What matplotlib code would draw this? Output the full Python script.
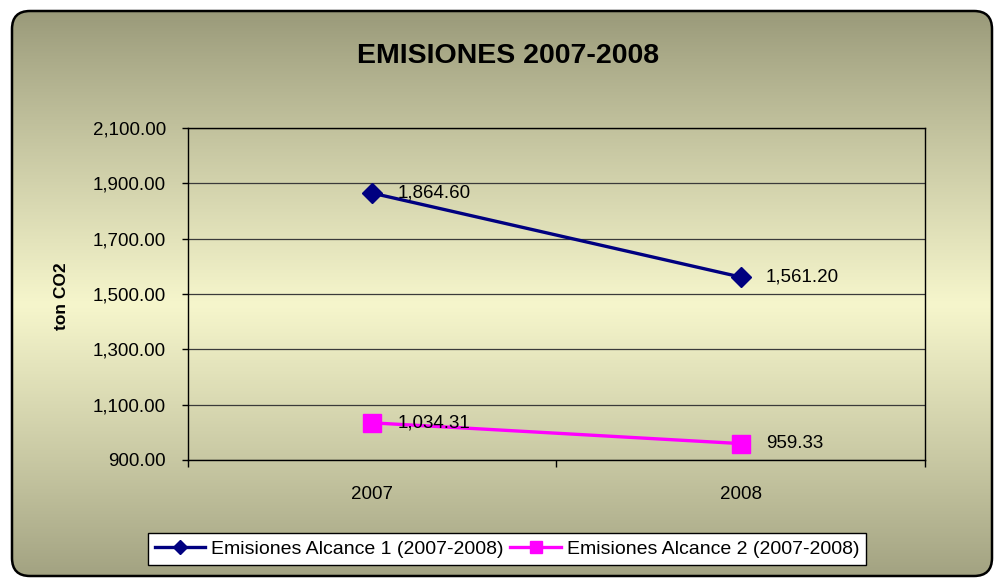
import numpy as np
import matplotlib
matplotlib.use('Agg')
import matplotlib.pyplot as plt
from matplotlib.patches import FancyBboxPatch

plt.rcParams['font.family'] = ['Liberation Sans', 'DejaVu Sans']

# data
years = ['2007', '2008']
alcance1 = [1864.60, 1561.20]
alcance2 = [1034.31, 959.33]
labels1 = ['1,864.60', '1,561.20']
labels2 = ['1,034.31', '959.33']
yticks = [900, 1100, 1300, 1500, 1700, 1900, 2100]

W, H = 995, 579
fig = plt.figure(figsize=(W / 100, H / 100), dpi=100)
fig.patch.set_facecolor('white')

# background with rounded frame and vertical gradient (dark - light - dark)
bg = fig.add_axes([0, 0, 1, 1])
bg.set_xlim(0, W); bg.set_ylim(H, 0); bg.axis('off')
t = np.linspace(0, 1, 300)
w = 1 - np.abs(t - 0.52) / 0.52
w = np.clip(w, 0, 1) ** 0.9
dark = np.array([153, 153, 121]) / 255
light = np.array([246, 246, 204]) / 255
grad = dark[None, :] * (1 - w[:, None]) + light[None, :] * w[:, None]
img = np.repeat(grad[:, None, :], 2, axis=1)
box = FancyBboxPatch((12, 11), 980, 565, boxstyle='round,pad=0,rounding_size=18',
                     facecolor='none', edgecolor='black', linewidth=1.8, zorder=3)
bg.add_patch(box)
im = bg.imshow(img, extent=[12, 992, 576, 11], aspect='auto', zorder=1)
im.set_clip_path(box)

# main plot
ax = fig.add_axes([188 / W, 1 - 460 / H, (925 - 188) / W, (460 - 128) / H])
ax.patch.set_alpha(0)
x = np.arange(len(years))
ax.plot(x, alcance1, color='#000080', lw=2.4, marker='D', ms=10,
        label='Emisiones Alcance 1 (2007-2008)', zorder=4)
ax.plot(x, alcance2, color='#FF00FF', lw=2.4, marker='s', ms=13,
        label='Emisiones Alcance 2 (2007-2008)', zorder=4)
for xi, v, s in zip(x, alcance1, labels1):
    ax.annotate(s, (xi, v), xytext=(18, 0), textcoords='offset points',
                va='center', ha='left', fontsize=13.5, zorder=5)
for xi, v, s in zip(x, alcance2, labels2):
    ax.annotate(s, (xi, v), xytext=(18, 0), textcoords='offset points',
                va='center', ha='left', fontsize=13.5, zorder=5)

ax.set_xlim(-0.5, 1.5)
ax.set_ylim(900, 2100)
ax.set_yticks(yticks)
ax.set_yticklabels(['{:,.2f}'.format(v) for v in yticks], fontsize=13.5)
ax.tick_params(axis='y', length=4, width=1, pad=12)
ax.set_xticks([-0.5, 0.5, 1.5])
ax.set_xticklabels(['', '', ''])
ax.set_xticks(x, minor=True)
ax.set_xticklabels(years, minor=True, fontsize=13.5)
ax.tick_params(axis='x', which='major', length=5, width=1)
ax.tick_params(axis='x', which='minor', length=0, pad=19)
ax.grid(axis='y', color='#3a3a3a', lw=0.9)
ax.set_axisbelow(True)
for sp in ax.spines.values():
    sp.set_color('black'); sp.set_linewidth(1)

fig.text(508 / W, 1 - 56 / H, 'EMISIONES 2007-2008', ha='center', va='center',
         fontsize=20.5, fontweight='bold')
fig.text(62 / W, 1 - 296 / H, 'ton CO2', ha='center', va='center', rotation=90,
         fontsize=12.5, fontweight='bold')

leg = fig.legend(loc='center', bbox_to_anchor=(507 / W, 1 - 549 / H), ncol=2,
                 fontsize=14, frameon=True, fancybox=False, edgecolor='black',
                 handlelength=2.6, handletextpad=0.3, columnspacing=0.35,
                 borderpad=0.35, borderaxespad=0, markerscale=0.7)
leg.get_frame().set_facecolor('white')
leg.get_frame().set_alpha(1)
leg.get_frame().set_linewidth(1)

fig.savefig('out.png', dpi=100)
